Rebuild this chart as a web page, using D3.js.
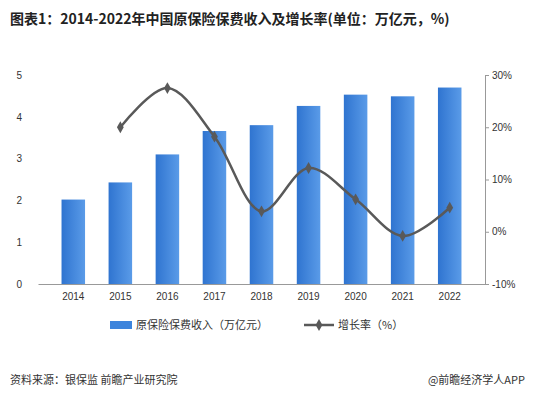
<!DOCTYPE html>
<html><head><meta charset="utf-8">
<script src="https://cdn.jsdelivr.net/npm/d3@7/dist/d3.min.js"></script>
<style>body{margin:0;background:#fff;font-family:"Noto Sans CJK SC","Noto Sans",sans-serif;}</style>
</head><body><svg id="c" width="533" height="400"></svg>
<script>
const years=["2014","2015","2016","2017","2018","2019","2020","2021","2022"];
const premium=[2.02,2.43,3.10,3.66,3.80,4.26,4.53,4.49,4.70];
const growth=[null,20.0,27.5,18.2,3.9,12.2,6.2,-0.8,4.6];
const leftTicks=[0,1,2,3,4,5];
const rightTicks=[-10,0,10,20,30];

const svg=d3.select("#c");
const m={l:38,r:485,t:75,b:284};
svg.append("text").attr("x",10).attr("y",24).attr("font-size",14).attr("font-weight","bold").attr("fill","#222")
 .text("图表1：2014-2022年中国原保险保费收入及增长率(单位：万亿元，%)");
const x=d3.scaleBand().domain(years).range([m.l,m.r]).padding(0.5);
const y=d3.scaleLinear().domain([0,5]).range([m.b,m.t]);
const y2=d3.scaleLinear().domain([-10,30]).range([m.b,m.t]);
const defs=svg.append("defs");
const g=defs.append("linearGradient").attr("id","bg").attr("x1",0).attr("x2",1);
g.append("stop").attr("offset",0).attr("stop-color","#2f74d0");
g.append("stop").attr("offset",1).attr("stop-color","#5a9be8");
svg.append("g").attr("transform",`translate(0,${m.b})`).call(d3.axisBottom(x).tickSize(0).tickPadding(9))
 .call(a=>{a.select(".domain").attr("stroke","#999");a.selectAll("text").attr("font-size",10).attr("fill","#333");});
svg.append("g").attr("transform",`translate(${m.l},0)`).call(d3.axisLeft(y).tickValues(leftTicks).tickFormat(d3.format("d")).tickSize(0).tickPadding(16))
 .call(a=>{a.select(".domain").remove();a.selectAll("text").attr("font-size",10).attr("fill","#333");});
svg.append("g").attr("transform",`translate(${m.r},0)`).call(d3.axisRight(y2).tickValues(rightTicks).tickSize(4).tickFormat(d=>d+"%"))
 .call(a=>{a.select(".domain").attr("stroke","#999");a.selectAll("line").attr("stroke","#999");a.selectAll("text").attr("font-size",10).attr("fill","#333");});
svg.selectAll(".bar").data(premium).join("rect").attr("x",(d,i)=>x(years[i])).attr("width",x.bandwidth())
 .attr("y",d=>y(d)).attr("height",d=>m.b-y(d)).attr("fill","url(#bg)");
const pts=growth.map((d,i)=>[x(years[i])+x.bandwidth()/2,d]).filter(p=>p[1]!==null);
svg.append("path").attr("d",d3.line().x(p=>p[0]).y(p=>y2(p[1])).curve(d3.curveCatmullRom)(pts))
 .attr("fill","none").attr("stroke","#595959").attr("stroke-width",2.5);
svg.selectAll(".pt").data(pts).join("path").attr("d",d3.symbol(d3.symbolDiamond,40))
 .attr("transform",p=>`translate(${p[0]},${y2(p[1])})`).attr("fill","#595959");
svg.append("rect").attr("x",110).attr("y",321).attr("width",22).attr("height",8).attr("fill","#3d84dc");
svg.append("text").attr("x",136).attr("y",329).attr("font-size",11).attr("fill","#333").text("原保险保费收入（万亿元）");
svg.append("line").attr("x1",304).attr("x2",334).attr("y1",325).attr("y2",325).attr("stroke","#595959").attr("stroke-width",2.5);
svg.append("path").attr("d",d3.symbol(d3.symbolDiamond,40)).attr("transform","translate(319,325)").attr("fill","#595959");
svg.append("text").attr("x",338).attr("y",329).attr("font-size",11).attr("fill","#333").text("增长率（%）");
svg.append("text").attr("x",10).attr("y",384).attr("font-size",11).attr("fill","#333").text("资料来源：银保监 前瞻产业研究院");
svg.append("text").attr("x",525).attr("y",384).attr("text-anchor","end").attr("font-size",11).attr("fill","#333").text("@前瞻经济学人APP");
</script></body></html>
